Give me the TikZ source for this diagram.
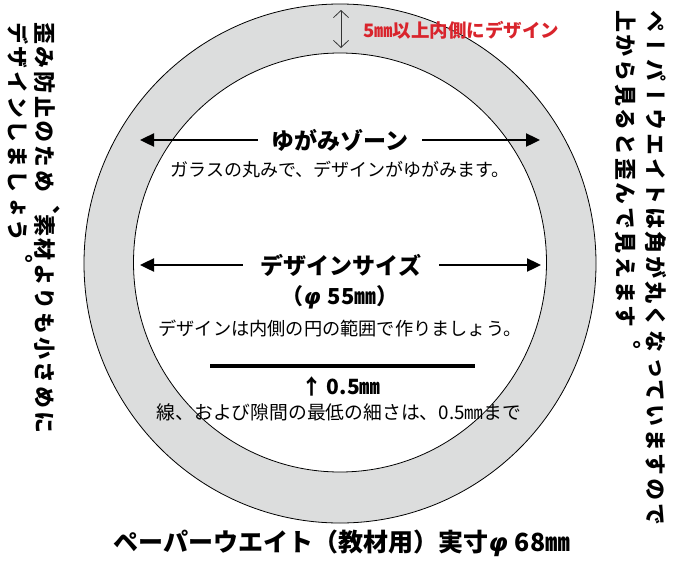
\documentclass[tikz,border=0pt]{standalone}
\usepackage{fontspec}
\usetikzlibrary{arrows.meta}
\setmainfont{Noto Sans CJK JP}
\newfontfamily\vjp[Vertical=RotatedGlyphs,LetterSpace=12]{Noto Sans CJK JP}
\newfontfamily\phifont{DejaVu Sans}
\definecolor{ringgray}{HTML}{DCDDDD}
\definecolor{notered}{HTML}{D9242C}
\newcommand{\fs}[1]{\fontsize{#1}{#1}\selectfont}
\newcommand{\phis}{{\phifont\bfseries\itshape φ}}
\newcommand{\vpunct}[1]{\raisebox{5pt}{#1}}
\tikzset{
  lbl/.style={inner sep=0pt, outer sep=0pt},
  dimarrow/.style={line width=2.4pt, -{Triangle[length=14pt,width=13pt]}},
  vtext/.style={inner sep=0pt, rotate=-90, anchor=west, font=\vjp\bfseries\fs{22}}
}
\begin{document}
\begin{tikzpicture}[x=1pt,y=-1pt]
\useasboundingbox (0,0) rectangle (675,560);
% ring
\path[fill=ringgray, draw=black, line width=0.8pt] (340,263.5) ellipse [x radius=256, y radius=259.5];
\path[fill=white, draw=black, line width=0.8pt] (340,262.5) ellipse [x radius=206.5, y radius=209.5];
% top margin note
\coordinate (mt) at (341,10);
\coordinate (mb) at (341,48);
\draw[gray!40!black, line width=0.8pt, {Straight Barb[length=7pt,width=15pt]}-{Straight Barb[length=7pt,width=15pt]}] (mt) -- (mb);
\node[lbl, anchor=west, text=notered, font=\bfseries\fs{18.5}] (note) at (363,30) {5㎜以上内側にデザイン};
% distortion zone
\node[lbl, font=\bfseries\fs{23}] (zone) at (340,140) {ゆがみゾーン};
\coordinate (zl) at (140,140);
\coordinate (zr) at (540,140);
\draw[dimarrow] (zone.west) ++(-14,0) -- (zl);
\draw[dimarrow] (zone.east) ++(14,0) -- (zr);
\node[lbl, font=\fs{18}] (zonetxt) at (340,170) {ガラスの丸みで、デザインがゆがみます。};
% design size
\node[lbl, font=\bfseries\fs{23}] (size) at (341,265) {デザインサイズ};
\coordinate (sl) at (140,265);
\coordinate (sr) at (541,265);
\draw[dimarrow] (size.west) ++(-18,0) -- (sl);
\draw[dimarrow] (size.east) ++(18,0) -- (sr);
\node[lbl, font=\bfseries\fs{22}] (dia) at (340,297) {（\phis\hspace{7pt}55㎜）};
\node[lbl, font=\fs{18.2}] (sizetxt) at (340,328) {デザインは内側の円の範囲で作りましょう。};
% min line width
\coordinate (la) at (210,366);
\coordinate (lb) at (475,366);
\draw[line width=4pt] (la) -- (lb);
\node[lbl, font=\bfseries\fs{21}] (half) at (341,386) {↑ 0.5㎜};
\node[lbl, font=\fs{18.8}] (halftxt) at (339,412) {線、および隙間の最低の細さは、0.5㎜まで};
% title
\node[lbl, font=\bfseries\fs{25}] (title) at (342,543) {ペーパーウエイト（教材用）実寸\phis\hspace{7pt}68㎜};
% side notes
\node[vtext] (l1) at (47,22) {歪み防止のため\vpunct{︑}素材よりも小さめに};
\node[vtext] (l2) at (20,22) {デザインしましょう\vpunct{︒}};
\node[vtext] (r1) at (656,10) {ペーパーウエイトは角が丸くなっていますので};
\node[vtext] (r2) at (628,10) {上から見ると歪んで見えます\vpunct{︒}};
\end{tikzpicture}
\end{document}
